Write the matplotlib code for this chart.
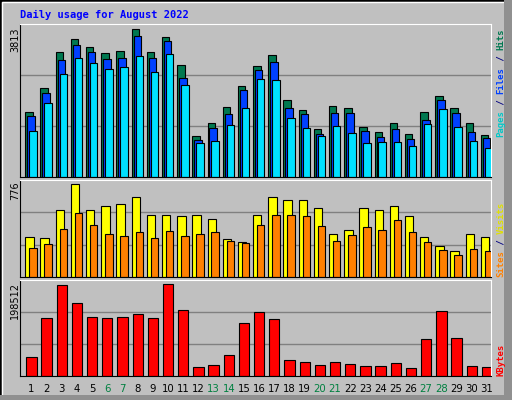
import matplotlib
matplotlib.use("Agg")
import matplotlib.pyplot as plt
from matplotlib.patches import Rectangle
import numpy as np

days = list(range(1, 32))
weekend = [6, 7, 13, 14, 20, 21, 27, 28]
hits = [1610,2211,3112,3438,3237,3087,3137,3688,3112,3488,2787,1010,1335,1736,2261,2762,
        3037,1911,1660,1185,1761,1711,1235,1110,1335,1060,1610,2011,1711,1335,1035]
files = [1510,2086,2912,3288,3112,2937,2962,3513,2962,3388,2461,909,1210,1560,2161,2662,
         2862,1711,1560,1060,1585,1585,1135,985,1185,935,1410,1911,1585,1110,960]
pages = [1135,1836,2562,2962,2837,2687,2737,3012,2612,3062,2286,834,884,1285,1711,2436,
         2411,1460,1210,1010,1260,1085,834,859,859,759,1310,1685,1235,884,709]
visits = [317,309,534,744,534,567,583,639,494,494,486,494,462,301,277,494,639,615,615,550,
          341,373,550,534,567,486,317,244,204,341,317]
sites = [228,260,381,510,413,341,325,357,309,365,325,341,357,285,269,413,494,494,486,405,
         285,333,397,373,454,357,277,212,172,220,204]
kbytes = [40260,119380,188100,150620,121470,119380,121470,127710,119380,190180,136040,19430,
          23600,44420,108970,131880,117300,34010,29840,23600,29840,25680,21520,21520,27760,17350,
          77740,133960,79820,21520,19430]
max_hits, max_visits, max_kb = 3813, 776, 198512

W, H = 512, 400
fig = plt.figure(figsize=(W/100, H/100), dpi=100)
fig.patch.set_facecolor("#C0C0C0")
fig.add_artist(Rectangle((0, 0), 1, 1, transform=fig.transFigure, fill=False, ec="black", lw=2))
fig.add_artist(Rectangle((0.004, 0.006), 0.992, 0.99, transform=fig.transFigure, fill=False, ec="white", lw=1))
fig.add_artist(Rectangle((0.985, 0.0), 0.015, 1, transform=fig.transFigure, color="#909090", lw=0))
fig.add_artist(Rectangle((0.0, 0.0), 1, 0.012, transform=fig.transFigure, color="#909090", lw=0))

x0, x1 = 20, 490.7
def mkax(ytop, ybot, ymax):
    ax = fig.add_axes([x0/W, 1-ybot/H, (x1-x0)/W, (ybot-ytop)/H])
    ax.set_facecolor("#C0C0C0")
    ax.set_xlim(0, 31); ax.set_ylim(0, ymax)
    ax.set_xticks([]); ax.set_yticks([])
    for g in (ymax/3, 2*ymax/3):
        ax.axhline(g, color="#808080", lw=1, zorder=0)
    ax.spines["left"].set_color("black"); ax.spines["bottom"].set_color("black")
    ax.spines["top"].set_color("white"); ax.spines["right"].set_color("white")
    return ax

x = np.arange(31)
ax1 = mkax(24.3, 176.7, max_hits)
ax1.bar(x+0.35, hits, width=0.49, align="edge", color="#007850", ec="black", lw=0.8)
ax1.bar(x+0.48, files, width=0.49, align="edge", color="#0040FF", ec="black", lw=0.8)
ax1.bar(x+0.61, pages, width=0.49, align="edge", color="#00E0FF", ec="black", lw=0.8)

ax2 = mkax(180.3, 276.7, max_visits)
ax2.bar(x+0.35, visits, width=0.55, align="edge", color="#FFFF00", ec="black", lw=0.8)
ax2.bar(x+0.61, sites, width=0.49, align="edge", color="#FF8000", ec="black", lw=0.8)

ax3 = mkax(280.3, 376, max_kb)
ax3.bar(x+0.41, kbytes, width=0.68, align="edge", color="#FF0000", ec="black", lw=0.8)

for i, d in enumerate(days):
    xc = (x0 + (i+0.75)*(x1-x0)/31)/W
    fig.text(xc, 1-389/H, str(d), ha="center", va="center", fontsize=7.3,
             color="#008040" if d in weekend else "black")

mono = "DejaVu Sans Mono"
fig.text(20/W, 1-15/H, "Daily usage for August 2022", fontsize=7.5, family=mono,
         weight="bold", color="#0000FF", va="center", ha="left")
for txt, ytop in [("3813", 27), ("776", 181), ("198512", 282)]:
    fig.text(15/W, 1-ytop/H, txt, rotation=90, fontsize=7, ha="center", va="top", color="black")

def vlabel(pieces, ybottom, xc=501):
    y = ybottom
    for txt, col in pieces:
        fig.text(xc/W, 1-y/H, txt, rotation=90, fontsize=6.5, family=mono, weight="bold",
                 color=col, ha="center", va="bottom")
        y -= len(txt)*5.43
vlabel([("Pages", "#00C8C8"), (" / ", "#000080"), ("Files", "#0040FF"), (" / ", "#000080"), ("Hits", "#007850")], 137)
vlabel([("Sites", "#FF8000"), (" / ", "#000080"), ("Visits", "#E0E000")], 277)
vlabel([("KBytes", "#FF0000")], 376)

fig.savefig("out.png", dpi=100, facecolor=fig.get_facecolor())
